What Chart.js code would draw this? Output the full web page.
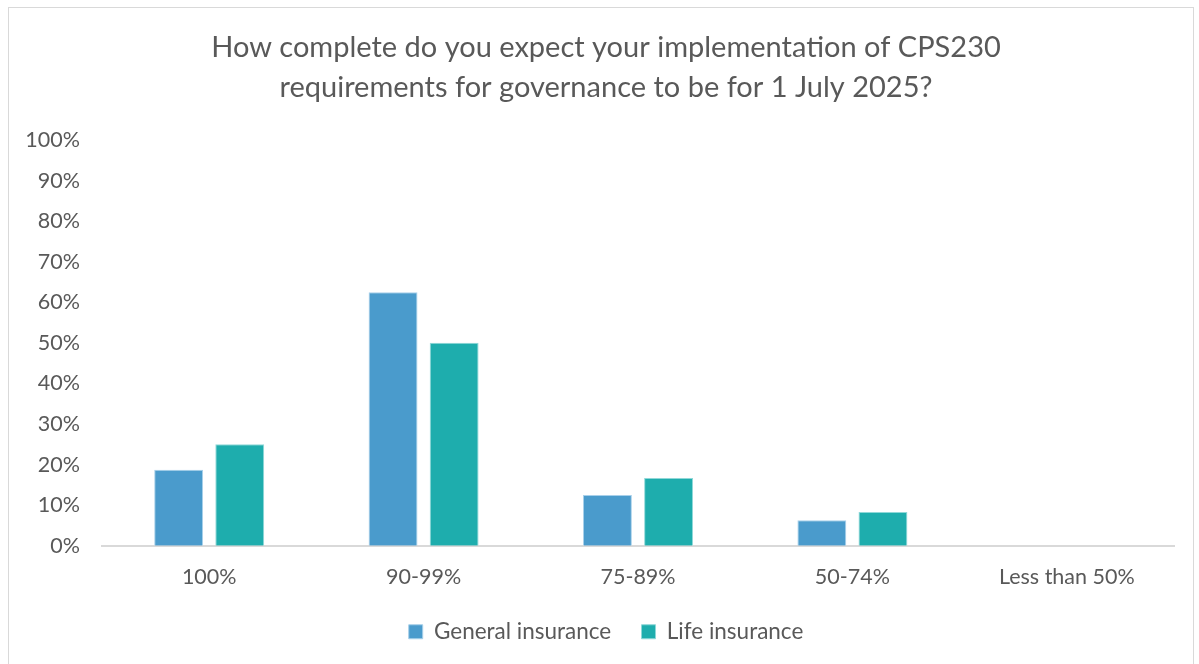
<!DOCTYPE html>
<html>
<head>
<meta charset="utf-8">
<script src="https://cdn.jsdelivr.net/npm/chart.js@4.4.0/dist/chart.umd.min.js"></script>
<style>
  html, body { margin: 0; padding: 0; background: #ffffff; }
  #wrap { position: relative; width: 1199px; height: 664px; overflow: hidden; }
  #frame { position: absolute; left: 8px; top: 7px; width: 1186px; height: 670px; border: 1px solid #d9d9d9; box-sizing: border-box; }
  canvas { position: absolute; left: 0; top: 0; }
</style>
</head>
<body>
<div id="wrap">
  <div id="frame"></div>
  <canvas id="c" width="1199" height="664"></canvas>
</div>
<script>
const titleLines = ["How complete do you expect your implementation of CPS230", "requirements for governance to be for 1 July 2025?"];
const categories = ["100%", "90-99%", "75-89%", "50-74%", "Less than 50%"];
const seriesNames = ["General insurance", "Life insurance"];
const generalInsurance = [18.75, 62.5, 12.5, 6.25, 0];
const lifeInsurance = [25, 50, 16.67, 8.33, 0];
const yTicks = [0, 10, 20, 30, 40, 50, 60, 70, 80, 90, 100];

const FONT = "Lato, 'Open Sans', 'Liberation Sans', sans-serif";
const GREY = "#595959";

new Chart(document.getElementById('c'), {
  type: 'bar',
  data: {
    labels: categories,
    datasets: [
      { label: seriesNames[0], data: generalInsurance, backgroundColor: '#4A9BCC', borderColor: '#a8d0ea', borderWidth: 1, categoryPercentage: 0.57, barPercentage: 0.8 },
      { label: seriesNames[1], data: lifeInsurance, backgroundColor: '#1EADAD', borderColor: '#8fd8d8', borderWidth: 1, categoryPercentage: 0.57, barPercentage: 0.8 }
    ]
  },
  options: {
    responsive: false,
    animation: false,
    layout: { padding: { left: 26, right: 13, top: 10, bottom: 11 } },
    plugins: {
      title: {
        display: true,
        text: titleLines,
        color: GREY,
        font: { family: FONT, size: 29, weight: 'normal', lineHeight: 1.38 },
        padding: { top: 18, bottom: 32 }
      },
      legend: {
        position: 'bottom',
        labels: {
          color: GREY,
          font: { family: FONT, size: 22.5 },
          boxWidth: 14, boxHeight: 14, padding: 13, useBorderRadius: false,
          generateLabels: (chart) => {
            const items = Chart.defaults.plugins.legend.labels.generateLabels(chart);
            items.forEach((it, i) => { if (i < items.length - 1) it.text = it.text + '   '; });
            return items;
          }
        }
      },
      tooltip: { enabled: false }
    },
    scales: {
      x: {
        grid: { display: false, drawTicks: false },
        border: { display: true, color: '#d9d9d9', width: 2 },
        ticks: { color: GREY, font: { family: FONT, size: 21.5 }, padding: 18 }
      },
      y: {
        min: 0, max: 100,
        afterFit: (s) => { s.width = 76; },
        afterBuildTicks: (s) => { s.ticks = yTicks.map(v => ({ value: v })); },
        grid: { display: false, drawTicks: false },
        border: { display: false },
        ticks: { color: GREY, font: { family: FONT, size: 21.5 }, padding: 22, callback: v => v + '%' }
      },
      yRight: {
        position: 'right',
        display: true,
        min: 0, max: 100,
        afterFit: (s) => { s.width = 12; },
        grid: { display: false, drawTicks: false },
        border: { display: false },
        ticks: { display: false }
      }
    }
  }
});
</script>
</body>
</html>
